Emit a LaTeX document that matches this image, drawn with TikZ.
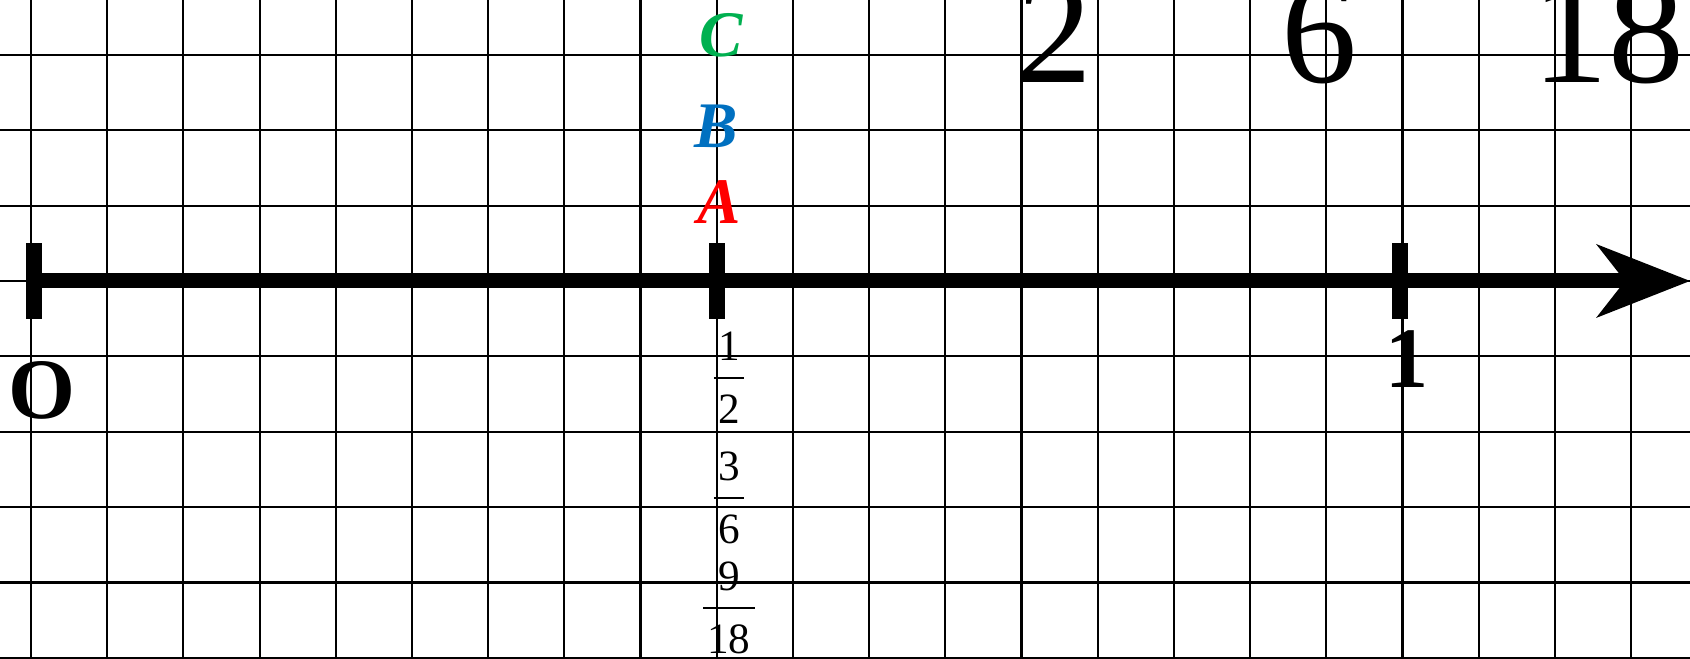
\documentclass[tikz,border=0pt]{standalone}
\usepackage{fontspec}
\setmainfont{Liberation Serif}
\usetikzlibrary{arrows.meta}
\definecolor{ptred}{RGB}{255,0,0}
\definecolor{ptblue}{RGB}{0,112,192}
\definecolor{ptgreen}{RGB}{0,176,80}

\begin{document}
\begin{tikzpicture}[x=0.762cm, y=0.754cm,
  gridline/.style={line width=0.6pt},
  tickmark/.style={line width=4.55pt},
  bigdigit/.style={anchor=base, inner sep=0pt, font=\fontsize{43.2}{48}\selectfont},
  axisnum/.style={anchor=base, inner sep=0pt, font=\fontsize{24.5}{28}\selectfont\bfseries},
  pointname/.style={anchor=base, inner sep=0pt, font=\fontsize{18.5}{22}\selectfont\bfseries\itshape},
  fracdigit/.style={anchor=base, inner sep=0pt, font=\fontsize{12.3}{14}\selectfont},
  fracbar/.style={line width=0.6pt}]
  % squared paper
  \useasboundingbox[fill=white] (-0.407,-5.013) rectangle (21.774,3.727);
  \foreach \i in {0,...,21}
    \draw[gridline] (\i,-5.013) -- (\i,3.727);
  \foreach \j in {-5,...,3}
    \draw[gridline] (-0.407,\j) -- (21.774,\j);
  % number line
  \coordinate (zero) at (0.04,0);
  \coordinate (half) at (9,0);
  \coordinate (one) at (17.97,0);
  \coordinate (tip) at (21.774,0);
  \draw[line width=4.27pt, -{Stealth[length=9.4mm, width=7.4mm, inset=2.9mm, line width=0pt]}] (zero) -- (tip);
  \foreach \p in {zero,half,one}
    \draw[tickmark] (\p) ++(0,0.5) -- ++(0,-1);
  \node[axisnum] (lzero) at (0.138,-1.830) {O};
  \node[axisnum] (lone) at (18.066,-1.419) {1};
  % denominators on top
  \node[bigdigit] (dtwo) at (13.427,2.626) {2};
  \node[bigdigit] (dsix) at (16.905,2.626) {6};
  \node[bigdigit] (deighteen) at (20.705,2.626) {18};
  % points
  \node[pointname, text=ptred] (pa) at (9.03,0.769) {A};
  \node[pointname, text=ptblue] (pb) at (8.99,1.777) {B};
  \node[pointname, text=ptgreen] (pc) at (9.056,2.984) {C};
  % equal fractions
  \foreach \n/\d/\y [count=\k] in {1/2/-1.286, 3/6/-2.878, 9/18/-4.337} {
    \coordinate (bar\k) at (9.161,\y);
    \node[fracdigit] (num\k) at ([yshift=0.17cm]bar\k) {\n};
    \node[fracdigit, inner xsep=0.035cm] (den\k) at ([yshift=-0.46cm]bar\k) {\d};
    \draw[fracbar] (den\k.west |- bar\k) -- (den\k.east |- bar\k);
  }
\end{tikzpicture}
\end{document}
